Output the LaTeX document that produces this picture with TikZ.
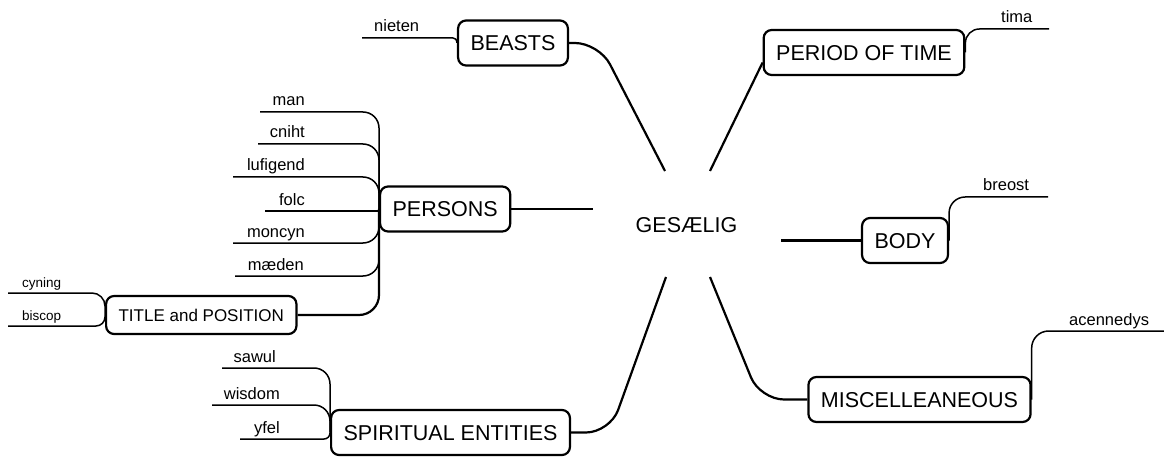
\documentclass[tikz,border=0pt]{standalone}
\usepackage{fontspec}
\setmainfont{Liberation Sans}
\usetikzlibrary{positioning}

\begin{document}
\begin{tikzpicture}[x=1pt,y=-1pt,line join=round]
  \tikzstyle{topic}=[rectangle,rounded corners=8pt,line width=2.2pt,draw=black,inner xsep=12.5pt,inner ysep=0pt,minimum height=45pt,text height=15.4pt,text depth=0pt,font=\fontsize{21.5}{24}\selectfont]
  \tikzstyle{subtopic}=[topic,minimum height=38pt,text height=12.2pt,font=\fontsize{17}{20}\selectfont]
  \tikzstyle{word}=[inner sep=0pt,font=\fontsize{16.5}{19}\selectfont]
  \tikzstyle{smallword}=[inner sep=0pt,font=\fontsize{13.5}{16}\selectfont]
  \tikzstyle{branch}=[line width=2.2pt,rounded corners=24pt]
  \tikzstyle{twig}=[line width=1.5pt,rounded corners=16pt]

  \useasboundingbox (0,0) rectangle (1164,457);

  % Centre word.
  \node [inner sep=0pt,anchor=base,font=\fontsize{21.5}{24}\selectfont] (gesaelig) at (686.5,233) {GESÆLIG};
  \coordinate (g-beasts) at (665,171);
  \coordinate (g-period) at (710,171);
  \coordinate (g-persons) at (593,209);
  \coordinate (g-body) at (781,240.5);
  \coordinate (g-spirit) at (666,277);
  \coordinate (g-misc) at (710,277);

  % Topics.
  \node [topic] (beasts) at (513,43) {BEASTS};
  \node [topic] (period) at (864,52.5) {PERIOD OF TIME};
  \node [topic,anchor=west] (persons) at (379,209) {PERSONS};
  \node [topic] (body) at (905,240.5) {BODY};
  \node [subtopic,anchor=west] (title) at (105,315) {TITLE and POSITION};
  \node [topic,anchor=west] (spiritual) at (330,432.5) {SPIRITUAL ENTITIES};
  \node [topic] (misc) at (919.5,399.5) {MISCELLEANEOUS};

  \draw [branch] (beasts.east) -- (599,43) -- (g-beasts);
  \draw [branch] (g-period) -- ([yshift=-10pt]period.west);
  \draw [branch] (persons.east) -- (g-persons);
  \draw [branch] (g-body) -- (body.west);
  \draw [branch] (spiritual.east) -- (610,432.5) -- (g-spirit);
  \draw [branch] (g-misc) -- (760,399.5) -- (misc.west);

  % Beasts.
  \coordinate (nieten-l) at (362,38);
  \node [word,anchor=base west] (nieten) at (374,32) {nieten};
  \draw [twig,rounded corners=4pt] (nieten-l) -| (beasts.west);

  % Persons.
  \coordinate (man-l) at (260,112);
  \coordinate (cniht-l) at (258,144);
  \coordinate (lufigend-l) at (233,177);
  \coordinate (folc-l) at (265,211);
  \coordinate (moncyn-l) at (233,243);
  \coordinate (maeden-l) at (235,276);
  \node [word,anchor=base east] (man) at (305,106) {man};
  \node [word,anchor=base east] (cniht) at (305,138) {cniht};
  \node [word,anchor=base east] (lufigend) at (305,171) {lufigend};
  \node [word,anchor=base east] (folc) at (305,205) {folc};
  \node [word,anchor=base east] (moncyn) at (305,237) {moncyn};
  \node [word,anchor=base east] (maeden) at (304,270) {mæden};
  \draw [twig] (man-l) -| (persons.west);
  \draw [twig] (cniht-l) -| (persons.west);
  \draw [twig] (lufigend-l) -| (persons.west);
  \draw [twig] (folc-l) -- (folc-l -| persons.west);
  \draw [twig] (moncyn-l) -| (persons.west);
  \draw [twig] (maeden-l) -| (persons.west);
  \draw [branch,rounded corners=20pt] (title.east) -| (persons.west);

  % Title and position.
  \coordinate (cyning-l) at (8,293);
  \coordinate (biscop-l) at (8,326);
  \node [smallword,anchor=base west] (cyning) at (22,287) {cyning};
  \node [smallword,anchor=base west] (biscop) at (22,320) {biscop};
  \draw [twig,rounded corners=13pt] (cyning-l) -| (title.west);
  \draw [twig,rounded corners=9pt] (biscop-l) -| (title.west);

  % Spiritual entities.
  \coordinate (sawul-l) at (222,368);
  \coordinate (wisdom-l) at (212,405);
  \coordinate (yfel-l) at (240,439);
  \node [word,anchor=base east] (sawul) at (276,362) {sawul};
  \node [word,anchor=base east] (wisdom) at (280,399) {wisdom};
  \node [word,anchor=base east] (yfel) at (280,433) {yfel};
  \draw [twig] (sawul-l) -| (spiritual.west);
  \draw [twig] (wisdom-l) -| (spiritual.west);
  \draw [twig,rounded corners=6pt] (yfel-l) -| (spiritual.west);

  % Right hand side.
  \coordinate (tima-r) at (1049,29);
  \coordinate (breost-r) at (1048,197);
  \coordinate (acennedys-r) at (1164,331);
  \node [word,anchor=base west] (tima) at (1001,23) {tima};
  \node [word,anchor=base west] (breost) at (983,191) {breost};
  \node [word,anchor=base west] (acennedys) at (1069,325) {acennedys};
  \draw [twig,rounded corners=14pt] (period.east) |- (tima-r);
  \draw [twig] (body.east) |- (breost-r);
  \draw [twig,rounded corners=17pt] (misc.east) |- (acennedys-r);
\end{tikzpicture}
\end{document}
